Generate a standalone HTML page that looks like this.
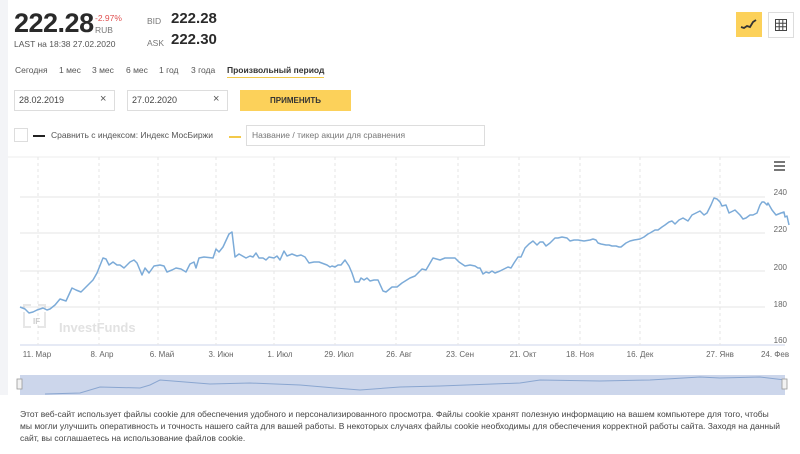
<!DOCTYPE html>
<html><head><meta charset="utf-8"><style>
body{margin:0;width:800px;height:454px;overflow:hidden;background:#fff;font-family:"Liberation Sans","Noto Sans CJK SC",sans-serif;color:#333;position:relative}
.a{position:absolute;white-space:nowrap}
</style></head><body>
<div class="a" style="left:0;top:0;width:8px;height:454px;background:#f3f4f7"></div>
<div class="a" style="left:14px;top:8px;font-size:27px;font-weight:bold;color:#2a2a2a;letter-spacing:-0.5px">222.28</div>
<div class="a" style="left:95px;top:13px;font-size:8.5px;color:#e05050">-2.97%</div>
<div class="a" style="left:95px;top:25px;font-size:8.5px;color:#777">RUB</div>
<div class="a" style="left:14px;top:39px;font-size:8.5px;color:#555">LAST на 18:38 27.02.2020</div>
<div class="a" style="left:147px;top:16px;font-size:8.5px;color:#777">BID</div>
<div class="a" style="left:171px;top:10px;font-size:15px;font-weight:bold;color:#2a2a2a">222.28</div>
<div class="a" style="left:147px;top:38px;font-size:8.5px;color:#777">ASK</div>
<div class="a" style="left:171px;top:31px;font-size:15px;font-weight:bold;color:#2a2a2a">222.30</div>
<div class="a" style="left:15px;top:65px;font-size:8.5px;color:#555">Сегодня</div>
<div class="a" style="left:59px;top:65px;font-size:8.5px;color:#555">1 мес</div>
<div class="a" style="left:92px;top:65px;font-size:8.5px;color:#555">3 мес</div>
<div class="a" style="left:126px;top:65px;font-size:8.5px;color:#555">6 мес</div>
<div class="a" style="left:159px;top:65px;font-size:8.5px;color:#555">1 год</div>
<div class="a" style="left:191px;top:65px;font-size:8.5px;color:#555">3 года</div>
<div class="a" style="left:227px;top:65px;font-size:8.5px;font-weight:bold;color:#333;border-bottom:1px solid #f3c94a;padding-bottom:2px">Произвольный период</div>
<div class="a" style="left:14px;top:90px;width:99px;height:19px;border:1px solid #ddd"><span class="a" style="left:4px;top:4px;font-size:9px;color:#444">28.02.2019</span><span class="a" style="left:85px;top:2px;font-size:11px;color:#555">×</span></div>
<div class="a" style="left:127px;top:90px;width:99px;height:19px;border:1px solid #ddd"><span class="a" style="left:4px;top:4px;font-size:9px;color:#444">27.02.2020</span><span class="a" style="left:85px;top:2px;font-size:11px;color:#555">×</span></div>
<div class="a" style="left:240px;top:90px;width:111px;height:21px;background:#fcd15a;font-size:8px;font-weight:bold;color:#333;text-align:center;line-height:21px">ПРИМЕНИТЬ</div>
<div class="a" style="left:14px;top:128px;width:12px;height:12px;border:1px solid #ddd"></div>
<div class="a" style="left:33px;top:135px;width:12px;height:1.5px;background:#222"></div>
<div class="a" style="left:51px;top:130px;font-size:8.5px;color:#555">Сравнить с индексом: Индекс МосБиржи</div>
<div class="a" style="left:229px;top:136px;width:12px;height:1.5px;background:#f3c94a"></div>
<div class="a" style="left:246px;top:125px;width:237px;height:19px;border:1px solid #ddd"><span class="a" style="left:5px;top:4px;font-size:8.5px;color:#777">Название / тикер акции для сравнения</span></div>
<div class="a" style="left:736px;top:12px;width:26px;height:25px;background:#fcd15a"></div>
<svg class="a" style="left:739px;top:16px" width="20" height="16"><polyline points="2,11 5,12 8,10 11,11 14,6 17,4" fill="none" stroke="#333" stroke-width="1.8"/></svg>
<div class="a" style="left:768px;top:12px;width:24px;height:24px;border:1px solid #ddd"></div>
<svg class="a" style="left:774px;top:18px" width="14" height="14"><g fill="none" stroke="#444" stroke-width="1"><rect x="1.5" y="1.5" width="11" height="11"/><path d="M5.2 1.5V12.5M8.8 1.5V12.5M1.5 5.2H12.5M1.5 8.8H12.5"/></g></svg>
<svg class="a" style="left:0;top:0" width="800" height="454">
<line x1="8" y1="157" x2="790" y2="157" stroke="#eee"/>
<g stroke="#e6e6e6" stroke-width="1">
<line x1="20" y1="197" x2="765" y2="197"/><line x1="20" y1="233" x2="765" y2="233"/><line x1="20" y1="271" x2="765" y2="271"/><line x1="20" y1="307" x2="765" y2="307"/></g>
<line x1="20" y1="345" x2="785" y2="345" stroke="#ccd6eb"/>
<g stroke="#e6e6e6" stroke-dasharray="3,3">
<line x1="38" y1="157" x2="38" y2="345"/><line x1="99" y1="157" x2="99" y2="345"/><line x1="158" y1="157" x2="158" y2="345"/><line x1="216" y1="157" x2="216" y2="345"/><line x1="274" y1="157" x2="274" y2="345"/><line x1="335" y1="157" x2="335" y2="345"/><line x1="396" y1="157" x2="396" y2="345"/><line x1="458" y1="157" x2="458" y2="345"/><line x1="519" y1="157" x2="519" y2="345"/><line x1="580" y1="157" x2="580" y2="345"/><line x1="640" y1="157" x2="640" y2="345"/><line x1="720" y1="157" x2="720" y2="345"/></g>
<g stroke="#555" stroke-width="1.6"><line x1="774" y1="162" x2="785" y2="162"/><line x1="774" y1="166" x2="785" y2="166"/><line x1="774" y1="170" x2="785" y2="170"/></g>
<g font-size="8" fill="#666" text-anchor="end"><text x="787" y="195">240</text><text x="787" y="232">220</text><text x="787" y="270">200</text><text x="787" y="307">180</text><text x="787" y="343">160</text></g>
<g font-size="8" fill="#666" text-anchor="middle"><text x="37" y="357">11. Мар</text><text x="102" y="357">8. Апр</text><text x="162" y="357">6. Май</text><text x="221" y="357">3. Июн</text><text x="280" y="357">1. Июл</text><text x="339" y="357">29. Июл</text><text x="399" y="357">26. Авг</text><text x="460" y="357">23. Сен</text><text x="523" y="357">21. Окт</text><text x="580" y="357">18. Ноя</text><text x="640" y="357">16. Дек</text><text x="720" y="357">27. Янв</text><text x="775" y="357">24. Фев</text></g>
<g opacity="0.35" fill="none" stroke="#bbb" stroke-width="2"><path d="M24 312V327H31M45 312V327H38M24 309V305H31M45 309V305H38"/></g>
<text x="33" y="324" font-size="8" fill="#ccc" font-weight="bold">IF</text>
<text x="59" y="332" font-size="13" fill="#e2e2e2" font-weight="bold">InvestFunds</text>
<polyline fill="none" stroke="#7cabd8" stroke-width="1.5" stroke-linejoin="round" points="20,307 25,309 29,313 33,312 37,310 43,308 47,310 50,309 55,305 60,299 66,301 72,288 76,290 81,292 87,286 93,280 97,273 103,258 106,259 109,265 113,262 117,265 120,265 124,268 130,262 134,260 137,263 142,275 145,268 149,273 154,266 160,265 164,266 167,272 172,270 176,268 181,269 186,272 190,264 194,262 196,268 199,258 204,257 213,258 216,249 219,252 223,247 229,234 232,232 235,257 239,254 246,258 250,256 253,257 256,253 259,258 263,258 266,260 269,257 274,258 277,256 280,260 284,251 287,256 292,254 297,256 301,255 305,257 309,263 314,262 319,262 327,265 330,267 332,266 335,267 338,265 341,265 345,260 349,266 352,273 355,282 359,282 361,278 364,280 367,278 370,281 374,280 378,280 383,291 386,292 392,287 397,287 402,283 410,278 415,276 419,272 422,269 426,270 433,258 440,260 445,258 452,258 455,258 459,262 462,264 465,266 470,265 475,266 478,268 480,268 483,274 486,272 489,273 492,271 495,273 500,271 504,269 508,267 511,268 514,263 518,257 521,257 525,248 529,244 533,241 537,245 540,242 543,242 546,246 550,243 555,238 558,238 562,237 567,238 570,241 574,240 578,240 584,241 590,240 593,239 596,240 598,243 601,244 606,245 609,245 612,246 616,246 619,247 621,247 626,243 630,241 634,240 640,239 644,237 648,234 650,233 655,230 658,230 662,227 665,225 669,222 672,221 675,224 679,220 683,218 688,221 692,215 696,213 700,211 704,215 707,213 711,205 714,198 717,199 720,202 722,206 726,205 729,213 735,210 740,215 743,219 746,218 750,215 753,215 757,213 760,205 762,202 764,202 767,205 768,203 772,210 776,215 781,213 784,212 785,217 787,216 789,225"/>
<rect x="20" y="375" width="765" height="20" fill="#ccd6eb"/>
<polyline fill="none" stroke="#8aa6d0" stroke-width="1" points="45,394 80,393 100,387 140,388 150,385 160,380 210,384 250,383 300,385 335,388 360,390 400,387 440,386 520,383 540,380 600,381 650,380 700,377 720,378 760,377 785,380"/>
<rect x="17" y="379" width="5" height="10" fill="#f2f2f2" stroke="#999" stroke-width="0.8"/>
<rect x="782" y="379" width="5" height="10" fill="#f2f2f2" stroke="#999" stroke-width="0.8"/>
</svg>
<div class="a" style="left:0;top:395px;width:800px;height:59px;background:#fff"></div>
<div class="a" style="left:20px;top:408px;font-size:8.5px;line-height:12px;color:#444;white-space:normal;width:762px">Этот веб-сайт использует файлы cookie для обеспечения удобного и персонализированного просмотра. Файлы cookie хранят полезную информацию на вашем компьютере для того, чтобы мы могли улучшить оперативность и точность нашего сайта для вашей работы. В некоторых случаях файлы cookie необходимы для обеспечения корректной работы сайта. Заходя на данный сайт, вы соглашаетесь на использование файлов cookie.</div>
</body></html>
